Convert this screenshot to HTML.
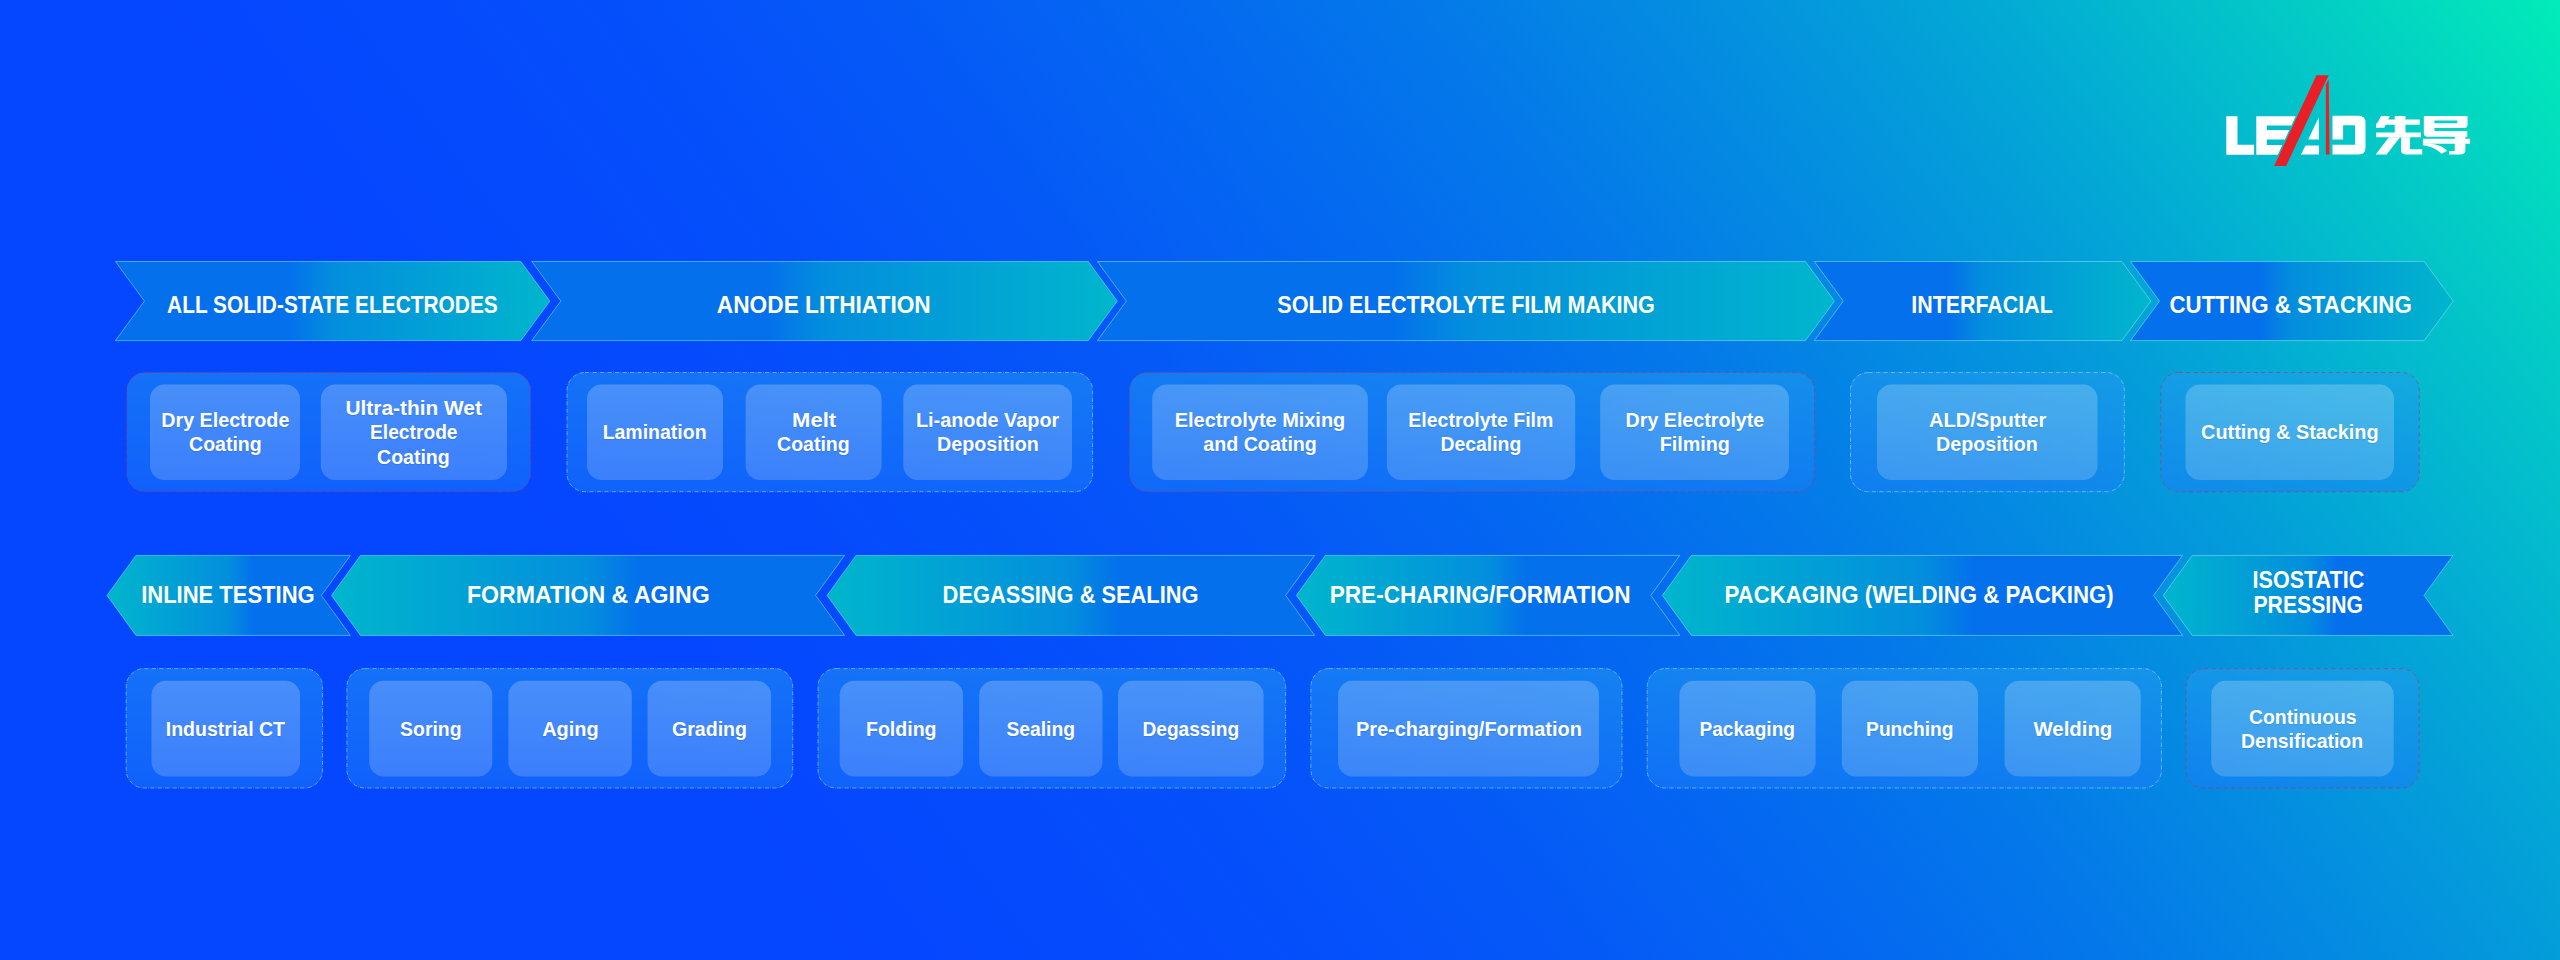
<!DOCTYPE html>
<html lang="en"><head><meta charset="utf-8"><title>Solid-state battery process</title>
<style>
html,body{margin:0;padding:0;background:#0546FF;}
body{width:2560px;height:960px;overflow:hidden;}
#stage{position:relative;width:2560px;height:960px;overflow:hidden;font-family:"Liberation Sans",sans-serif;
background: linear-gradient(53.7deg, #0546FF 0%, #0546FF 21.60%, #0546FF 25.52%, #0548FE 29.44%, #054AFD 33.36%, #054DFC 37.28%, #0550FB 41.20%, #0555F9 45.12%, #055AF6 49.04%, #0561F4 52.96%, #0468F1 56.88%, #0470ED 60.80%, #0478EA 64.72%, #0482E5 68.64%, #048CE1 72.56%, #0497DC 76.48%, #03A3D7 80.40%, #03B0D2 84.32%, #03BECC 88.24%, #03CCC5 92.16%, #02DCBF 96.08%, #02ECB8 100.00%);
}
svg.layer{position:absolute;left:0;top:0;width:2560px;height:960px;}
.t{position:absolute;color:#fff;font-weight:bold;text-align:center;white-space:nowrap;display:flex;flex-direction:column;align-items:center;justify-content:center;}
.h{font-size:23.3px;line-height:25.5px;}
.i{font-size:20.1px;line-height:24.25px;text-shadow:0 1px 1px rgba(20,60,160,0.18);}
</style></head><body><div id="stage">

<svg class="layer" viewBox="0 0 2560 960">
<defs>
<linearGradient id="gr" x1="0" y1="0" x2="1" y2="0"><stop offset="0" stop-color="#0470EC"/><stop offset="0.40" stop-color="#0470EC"/><stop offset="0.50" stop-color="#038EDD"/><stop offset="1" stop-color="#00B6CC"/></linearGradient>
<linearGradient id="gl" x1="1" y1="0" x2="0" y2="0"><stop offset="0" stop-color="#0470EC"/><stop offset="0.40" stop-color="#0470EC"/><stop offset="0.50" stop-color="#038EDD"/><stop offset="1" stop-color="#00B6CC"/></linearGradient>
<linearGradient id="gi" x1="0" y1="0" x2="0" y2="1"><stop offset="0" stop-color="#fff" stop-opacity="0.22"/><stop offset="1" stop-color="#fff" stop-opacity="0.18"/></linearGradient>
<linearGradient id="gg" x1="0" y1="0" x2="0" y2="1"><stop offset="0" stop-color="rgb(36,156,241)" stop-opacity="0.5"/><stop offset="1" stop-color="rgb(27,124,249)" stop-opacity="0.5"/></linearGradient>
</defs>
<polygon points="115.4,261.5 520.8,261.5 549.8,301.1 520.8,340.6 115.4,340.6 144.4,301.1" fill="url(#gr)" stroke="rgba(130,225,250,0.55)" stroke-width="1"/>
<polygon points="531.8,261.5 1088.2,261.5 1117.2,301.1 1088.2,340.6 531.8,340.6 560.8,301.1" fill="url(#gr)" stroke="rgba(130,225,250,0.55)" stroke-width="1"/>
<polygon points="1097.4,261.5 1805.4,261.5 1834.4,301.1 1805.4,340.6 1097.4,340.6 1126.4,301.1" fill="url(#gr)" stroke="rgba(130,225,250,0.55)" stroke-width="1"/>
<polygon points="1814.3,261.5 2121.8,261.5 2150.8,301.1 2121.8,340.6 1814.3,340.6 1843.3,301.1" fill="url(#gr)" stroke="rgba(130,225,250,0.55)" stroke-width="1"/>
<polygon points="2130.5,261.5 2424.2,261.5 2453.2,301.1 2424.2,340.6 2130.5,340.6 2159.5,301.1" fill="url(#gr)" stroke="rgba(130,225,250,0.55)" stroke-width="1"/>
<polygon points="107.0,595.4 136.0,555.4 350.4,555.4 321.4,595.4 350.4,635.4 136.0,635.4" fill="url(#gl)" stroke="rgba(130,225,250,0.55)" stroke-width="1"/>
<polygon points="331.5,595.4 360.5,555.4 844.6,555.4 815.6,595.4 844.6,635.4 360.5,635.4" fill="url(#gl)" stroke="rgba(130,225,250,0.55)" stroke-width="1"/>
<polygon points="827.1,595.4 856.1,555.4 1314.6,555.4 1285.6,595.4 1314.6,635.4 856.1,635.4" fill="url(#gl)" stroke="rgba(130,225,250,0.55)" stroke-width="1"/>
<polygon points="1296.4,595.4 1325.4,555.4 1679.8,555.4 1650.8,595.4 1679.8,635.4 1325.4,635.4" fill="url(#gl)" stroke="rgba(130,225,250,0.55)" stroke-width="1"/>
<polygon points="1662.4,595.4 1691.4,555.4 2182.6,555.4 2153.6,595.4 2182.6,635.4 1691.4,635.4" fill="url(#gl)" stroke="rgba(130,225,250,0.55)" stroke-width="1"/>
<polygon points="2163.3,595.4 2192.3,555.4 2453.0,555.4 2424.0,595.4 2453.0,635.4 2192.3,635.4" fill="url(#gl)" stroke="rgba(130,225,250,0.55)" stroke-width="1"/>
<rect x="126.8" y="372.5" width="403.7" height="119.2" rx="18" fill="url(#gg)" stroke="rgba(190,45,85,0.62)" stroke-width="1" stroke-dasharray="4 3.5"/>
<rect x="150.0" y="384.4" width="150.0" height="95.6" rx="14.5" fill="url(#gi)"/>
<rect x="320.8" y="384.4" width="186.2" height="95.6" rx="14.5" fill="url(#gi)"/>
<rect x="567.0" y="372.5" width="525.6" height="119.2" rx="18" fill="url(#gg)" stroke="rgba(140,215,255,0.62)" stroke-width="1" stroke-dasharray="4.2 1.4 0.6 1.3"/>
<rect x="587.0" y="384.4" width="136.0" height="95.6" rx="14.5" fill="url(#gi)"/>
<rect x="745.6" y="384.4" width="136.0" height="95.6" rx="14.5" fill="url(#gi)"/>
<rect x="903.3" y="384.4" width="168.7" height="95.6" rx="14.5" fill="url(#gi)"/>
<rect x="1129.4" y="372.5" width="685.1" height="119.2" rx="18" fill="url(#gg)" stroke="rgba(190,45,85,0.62)" stroke-width="1" stroke-dasharray="4 3.5"/>
<rect x="1152.2" y="384.4" width="215.7" height="95.6" rx="14.5" fill="url(#gi)"/>
<rect x="1386.8" y="384.4" width="188.4" height="95.6" rx="14.5" fill="url(#gi)"/>
<rect x="1600.2" y="384.4" width="188.7" height="95.6" rx="14.5" fill="url(#gi)"/>
<rect x="1850.5" y="372.5" width="273.8" height="119.2" rx="18" fill="url(#gg)" stroke="rgba(140,215,255,0.62)" stroke-width="1" stroke-dasharray="4.2 1.4 0.6 1.3"/>
<rect x="1877.0" y="384.4" width="220.5" height="95.6" rx="14.5" fill="url(#gi)"/>
<rect x="2160.8" y="372.5" width="258.5" height="119.2" rx="18" fill="url(#gg)" stroke="rgba(190,45,85,0.62)" stroke-width="1" stroke-dasharray="4 3.5"/>
<rect x="2185.5" y="384.4" width="208.5" height="95.6" rx="14.5" fill="url(#gi)"/>
<rect x="126.2" y="668.6" width="196.3" height="119.4" rx="18" fill="url(#gg)" stroke="rgba(140,215,255,0.62)" stroke-width="1" stroke-dasharray="4.2 1.4 0.6 1.3"/>
<rect x="151.5" y="680.7" width="148.5" height="95.7" rx="14.5" fill="url(#gi)"/>
<rect x="346.9" y="668.6" width="445.8" height="119.4" rx="18" fill="url(#gg)" stroke="rgba(140,215,255,0.62)" stroke-width="1" stroke-dasharray="4.2 1.4 0.6 1.3"/>
<rect x="369.2" y="680.7" width="123.1" height="95.7" rx="14.5" fill="url(#gi)"/>
<rect x="508.4" y="680.7" width="123.4" height="95.7" rx="14.5" fill="url(#gi)"/>
<rect x="647.6" y="680.7" width="123.5" height="95.7" rx="14.5" fill="url(#gi)"/>
<rect x="818.0" y="668.6" width="467.6" height="119.4" rx="18" fill="url(#gg)" stroke="rgba(140,215,255,0.62)" stroke-width="1" stroke-dasharray="4.2 1.4 0.6 1.3"/>
<rect x="839.7" y="680.7" width="123.4" height="95.7" rx="14.5" fill="url(#gi)"/>
<rect x="979.2" y="680.7" width="123.3" height="95.7" rx="14.5" fill="url(#gi)"/>
<rect x="1118.0" y="680.7" width="145.6" height="95.7" rx="14.5" fill="url(#gi)"/>
<rect x="1310.9" y="668.6" width="311.1" height="119.4" rx="18" fill="url(#gg)" stroke="rgba(140,215,255,0.62)" stroke-width="1" stroke-dasharray="4.2 1.4 0.6 1.3"/>
<rect x="1338.1" y="680.7" width="260.9" height="95.7" rx="14.5" fill="url(#gi)"/>
<rect x="1647.2" y="668.6" width="514.2" height="119.4" rx="18" fill="url(#gg)" stroke="rgba(140,215,255,0.62)" stroke-width="1" stroke-dasharray="4.2 1.4 0.6 1.3"/>
<rect x="1679.4" y="680.7" width="136.2" height="95.7" rx="14.5" fill="url(#gi)"/>
<rect x="1841.8" y="680.7" width="136.2" height="95.7" rx="14.5" fill="url(#gi)"/>
<rect x="2004.6" y="680.7" width="136.1" height="95.7" rx="14.5" fill="url(#gi)"/>
<rect x="2186.0" y="668.6" width="233.0" height="119.4" rx="18" fill="url(#gg)" stroke="rgba(190,45,85,0.62)" stroke-width="1" stroke-dasharray="4 3.5"/>
<rect x="2211.3" y="680.7" width="182.4" height="95.7" rx="14.5" fill="url(#gi)"/>
</svg>
<div class="t h" style="left:112.4px;width:440px;top:292.5px;height:25.5px;"><div style="transform:scaleX(0.8965)">ALL SOLID-STATE ELECTRODES</div></div>
<div class="t h" style="left:604.0px;width:440px;top:292.5px;height:25.5px;"><div style="transform:scaleX(0.9741)">ANODE LITHIATION</div></div>
<div class="t h" style="left:1245.6px;width:440px;top:292.5px;height:25.5px;"><div style="transform:scaleX(0.9252)">SOLID ELECTROLYTE FILM MAKING</div></div>
<div class="t h" style="left:1762.2px;width:440px;top:292.5px;height:25.5px;"><div style="transform:scaleX(0.9194)">INTERFACIAL</div></div>
<div class="t h" style="left:2071.0px;width:440px;top:292.5px;height:25.5px;"><div style="transform:scaleX(0.9564)">CUTTING &amp; STACKING</div></div>
<div class="t h" style="left:8.4px;width:440px;top:582.8px;height:25.5px;"><div style="transform:scaleX(0.9440)">INLINE TESTING</div></div>
<div class="t h" style="left:368.0px;width:440px;top:582.8px;height:25.5px;"><div style="transform:scaleX(0.9926)">FORMATION &amp; AGING</div></div>
<div class="t h" style="left:850.3px;width:440px;top:582.8px;height:25.5px;"><div style="transform:scaleX(0.9369)">DEGASSING &amp; SEALING</div></div>
<div class="t h" style="left:1260.0px;width:440px;top:582.8px;height:25.5px;"><div style="transform:scaleX(0.9697)">PRE-CHARING/FORMATION</div></div>
<div class="t h" style="left:1698.9px;width:440px;top:582.8px;height:25.5px;"><div style="transform:scaleX(0.9537)">PACKAGING (WELDING &amp; PACKING)</div></div>
<div class="t h" style="left:2088.2px;width:440px;top:567.7px;height:51.0px;"><div style="transform:scaleX(0.9239)">ISOSTATIC</div><div style="transform:scaleX(0.9086)">PRESSING</div></div>
<div class="t i" style="left:5.0px;width:440px;top:408.2px;height:48.5px;"><div style="transform:scaleX(0.9796)">Dry Electrode</div><div style="transform:scaleX(0.9720)">Coating</div></div>
<div class="t i" style="left:193.9px;width:440px;top:396.1px;height:72.8px;"><div style="transform:scaleX(1.0391)">Ultra-thin Wet</div><div style="transform:scaleX(0.9555)">Electrode</div><div style="transform:scaleX(0.9720)">Coating</div></div>
<div class="t i" style="left:435.0px;width:440px;top:420.3px;height:24.2px;"><div style="transform:scaleX(0.9695)">Lamination</div></div>
<div class="t i" style="left:593.6px;width:440px;top:408.2px;height:48.5px;"><div style="transform:scaleX(1.0949)">Melt</div><div style="transform:scaleX(0.9720)">Coating</div></div>
<div class="t i" style="left:767.6px;width:440px;top:408.2px;height:48.5px;"><div style="transform:scaleX(0.9873)">Li-anode Vapor</div><div style="transform:scaleX(0.9785)">Deposition</div></div>
<div class="t i" style="left:1040.1px;width:440px;top:408.2px;height:48.5px;"><div style="transform:scaleX(0.9915)">Electrolyte Mixing</div><div style="transform:scaleX(0.9794)">and Coating</div></div>
<div class="t i" style="left:1261.0px;width:440px;top:408.2px;height:48.5px;"><div style="transform:scaleX(0.9683)">Electrolyte Film</div><div style="transform:scaleX(0.9646)">Decaling</div></div>
<div class="t i" style="left:1474.6px;width:440px;top:408.2px;height:48.5px;"><div style="transform:scaleX(0.9778)">Dry Electrolyte</div><div style="transform:scaleX(0.9813)">Filming</div></div>
<div class="t i" style="left:1767.2px;width:440px;top:408.2px;height:48.5px;"><div style="transform:scaleX(1.0007)">ALD/Sputter</div><div style="transform:scaleX(0.9785)">Deposition</div></div>
<div class="t i" style="left:2069.8px;width:440px;top:420.3px;height:24.2px;"><div style="transform:scaleX(0.9876)">Cutting &amp; Stacking</div></div>
<div class="t i" style="left:5.8px;width:440px;top:716.7px;height:24.2px;"><div style="transform:scaleX(0.9714)">Industrial CT</div></div>
<div class="t i" style="left:210.8px;width:440px;top:716.7px;height:24.2px;"><div style="transform:scaleX(0.9648)">Soring</div></div>
<div class="t i" style="left:350.1px;width:440px;top:716.7px;height:24.2px;"><div style="transform:scaleX(0.9943)">Aging</div></div>
<div class="t i" style="left:489.4px;width:440px;top:716.7px;height:24.2px;"><div style="transform:scaleX(0.9736)">Grading</div></div>
<div class="t i" style="left:681.4px;width:440px;top:716.7px;height:24.2px;"><div style="transform:scaleX(0.9732)">Folding</div></div>
<div class="t i" style="left:820.8px;width:440px;top:716.7px;height:24.2px;"><div style="transform:scaleX(0.9599)">Sealing</div></div>
<div class="t i" style="left:970.8px;width:440px;top:716.7px;height:24.2px;"><div style="transform:scaleX(0.9525)">Degassing</div></div>
<div class="t i" style="left:1248.5px;width:440px;top:716.7px;height:24.2px;"><div style="transform:scaleX(0.9922)">Pre-charging/Formation</div></div>
<div class="t i" style="left:1527.5px;width:440px;top:716.7px;height:24.2px;"><div style="transform:scaleX(0.9501)">Packaging</div></div>
<div class="t i" style="left:1689.9px;width:440px;top:716.7px;height:24.2px;"><div style="transform:scaleX(0.9538)">Punching</div></div>
<div class="t i" style="left:1852.6px;width:440px;top:716.7px;height:24.2px;"><div style="transform:scaleX(1.0133)">Welding</div></div>
<div class="t i" style="left:2082.5px;width:440px;top:704.5px;height:48.5px;"><div style="transform:scaleX(0.9650)">Continuous</div><div style="transform:scaleX(0.9669)">Densification</div></div>
<svg class="layer" viewBox="0 0 2560 960">
<path fill="#fff" d="M2226.3,116.2H2237.5V144.7H2254.1V154.7H2226.3Z"/>
<path fill="#fff" d="M2256.3,116.2L2295.72,116.2L2291.35,125.6L2266.8,125.6L2266.8,130.0L2289.30,130.0L2284.93,139.4L2266.8,139.4L2266.8,145.0L2282.32,145.0L2277.81,154.7L2256.3,154.7Z"/>
<path fill="#E91F28" d="M2316.4,75.2L2328.7,75.2L2286.1,165.9L2274.2,165.9Z"/>
<path fill="#E91F28" d="M2328.7,79.5L2329.5,154.5L2325.9,154.5L2325.9,84.5Z"/>
<path fill="#fff" d="M2318.7,117.4L2319,139.6L2308.2,139.6Z"/>
<path fill="#fff" d="M2305.6,145.5L2319,145.5L2319,154.6L2300.9,154.6Z"/>
<path fill="#fff" d="M2332.5,115.8H2358.5Q2365.5,115.8 2365.5,122.8V147.6Q2365.5,154.6 2358.5,154.6H2332.5V144.8H2355.1V126.2Q2355.1,125.2 2354.1,125.2H2343.1V139.6H2332.5Z"/>
<g transform="translate(2366,106) scale(0.0625)" fill="#fff">
<path d="M240,160H382L292,347H160V283L185,268Z"/>
<path d="M300,215H860V300H300Z"/>
<path d="M460,160H632V500H460Z"/>
<path d="M160,425H880V500H160Z"/>
<path d="M365,500H545L330,775H155Z"/>
<path d="M560,500H705V690H900V775H630Q560,775 560,705Z"/>
<path fill-rule="evenodd" d="M925,160H1625V300Q1625,350 1575,350H1095V400H1620V490H985Q925,490 925,430ZM1095,230H1460V275H1095Z"/>
<path d="M910,525H1665V605H910Z"/>
<path d="M1420,485H1590V705Q1590,775 1520,775H1330V720H1420Z"/>
<path d="M910,600H1010C1130,605 1240,655 1300,715L1210,765C1165,712 1075,652 910,626Z"/>
</g>
</svg>
</div></body></html>
